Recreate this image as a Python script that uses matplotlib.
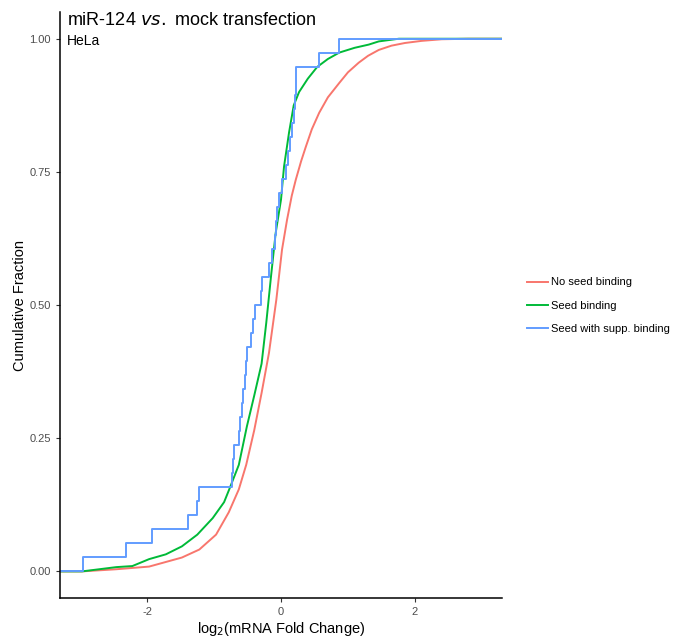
import numpy as np
import matplotlib
matplotlib.use("Agg")
import matplotlib.pyplot as plt

plt.rcParams['font.family'] = ['Liberation Sans', 'DejaVu Sans']
plt.rcParams['axes.unicode_minus'] = False

# ECDF of "No seed binding" (many genes, read as x at cumulative fraction)
red_x = [-2.97, -2.46, -1.97, -1.48, -1.22, -0.97, -0.78, -0.63, -0.52, -0.40, -0.29,
         -0.18, -0.07, 0.015, 0.09, 0.16, 0.22, 0.30, 0.37, 0.46, 0.57, 0.70, 0.87,
         1.00, 1.16, 1.30, 1.46, 1.65, 1.85, 2.10, 2.40, 2.80]
red_y = [0.0, 0.004, 0.009, 0.026, 0.041, 0.069, 0.111, 0.154, 0.20, 0.265, 0.335,
         0.41, 0.51, 0.604, 0.66, 0.705, 0.735, 0.77, 0.797, 0.83, 0.861, 0.89, 0.917,
         0.937, 0.955, 0.968, 0.979, 0.987, 0.992, 0.996, 0.999, 1.0]

# ECDF of "Seed binding"
green_x = [-2.97, -2.46, -2.22, -1.97, -1.72, -1.48, -1.25, -1.02, -0.85, -0.77, -0.63,
           -0.51, -0.40, -0.29, -0.22, -0.15, -0.08, 0.0, 0.045, 0.12, 0.19, 0.27,
           0.40, 0.54, 0.70, 0.87, 1.10, 1.31, 1.46, 1.76]
green_y = [0.0, 0.008, 0.010, 0.023, 0.032, 0.047, 0.069, 0.10, 0.13, 0.155, 0.20,
           0.272, 0.33, 0.39, 0.467, 0.553, 0.635, 0.698, 0.76, 0.824, 0.875, 0.90,
           0.925, 0.947, 0.962, 0.974, 0.983, 0.989, 0.995, 1.0]

# "Seed with supp. binding": individual log2 fold changes (38 genes)
blue_vals = [-2.96, -2.31, -1.93, -1.39, -1.25, -1.22, -0.73, -0.72, -0.70, -0.63,
             -0.61, -0.58, -0.57, -0.54, -0.52, -0.51, -0.45, -0.42, -0.39, -0.30,
             -0.28, -0.18, -0.13, -0.09, -0.08, -0.06, -0.03, 0.015, 0.07, 0.10,
             0.13, 0.16, 0.19, 0.21, 0.22, 0.23, 0.57, 0.87]

labels = ["No seed binding", "Seed binding", "Seed with supp. binding"]
colors = ["#F8766D", "#00BA38", "#619CFF"]

xmin, xmax = -3.3, 3.3

fig = plt.figure(figsize=(6.76, 6.37), dpi=100)
ax = fig.add_axes([0.0888, 0.0612, 0.6538, 0.9198])

lw = 1.4
ax.plot([xmin] + red_x + [xmax], [0] + red_y + [1], color=colors[0], lw=lw, label=labels[0])
ax.plot([xmin] + green_x + [xmax], [0] + green_y + [1], color=colors[1], lw=lw, label=labels[1])

n = len(blue_vals)
bx = [xmin] + sorted(blue_vals) + [xmax]
by = [0] + [(k + 1) / n for k in range(n)] + [1]
ax.step(bx, by, where='post', color=colors[2], lw=lw, label=labels[2])

ax.set_xlim(xmin, xmax)
ax.set_ylim(-0.05, 1.05)
ax.set_xticks([-2, 0, 2])
ax.set_yticks([0, 0.25, 0.5, 0.75, 1.0])
ax.set_yticklabels(["0.00", "0.25", "0.50", "0.75", "1.00"])

for s in ["top", "right"]:
    ax.spines[s].set_visible(False)
for s in ["left", "bottom"]:
    ax.spines[s].set_linewidth(1.1)
    ax.spines[s].set_color("black")
ax.tick_params(length=3, width=0.8, color="#333333", labelcolor="#4D4D4D", labelsize=8)

ax.set_xlabel("log$_2$(mRNA Fold Change)", fontsize=10.5, labelpad=2)
ax.set_ylabel("Cumulative Fraction", fontsize=10.5, labelpad=2)

ax.text(0.015, 1.0, "miR-124 $\\it{vs.}$ mock transfection", transform=ax.transAxes,
        fontsize=13, va="top", ha="left")
ax.text(0.015, 0.962, "HeLa", transform=ax.transAxes, fontsize=10, va="top", ha="left")

fig.legend(loc="center left", bbox_to_anchor=(0.765, 0.52), frameon=False,
           fontsize=8, handlelength=1.9, handletextpad=0.25, labelspacing=1.2)

fig.savefig("out.png", dpi=100)
